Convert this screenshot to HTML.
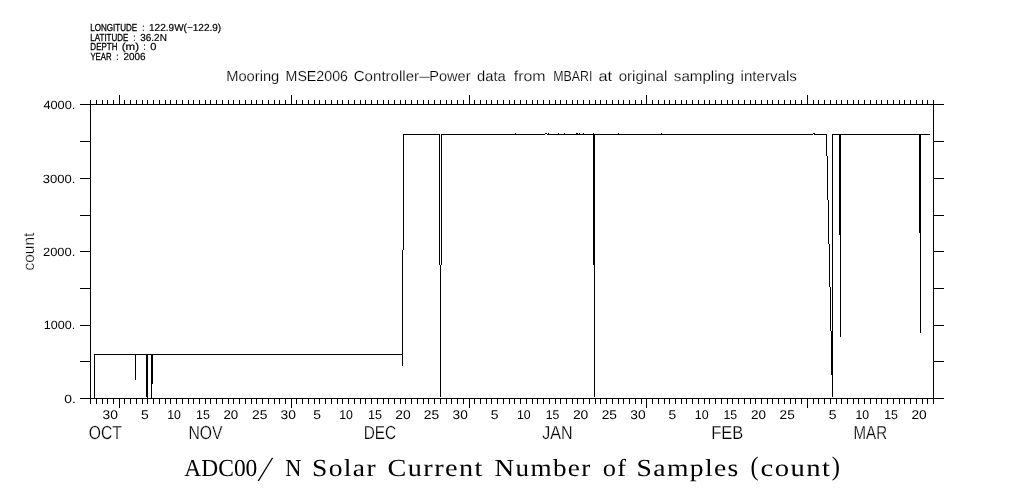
<!DOCTYPE html>
<html lang="en">
<head>
<meta charset="utf-8">
<title>Mooring MSE2006 Controller-Power data</title>
<style>
html, body { margin: 0; padding: 0; background: #fff; }
body { width: 1009px; height: 504px; overflow: hidden; }
svg { display: block; filter: grayscale(1); }
svg text { fill: #000; white-space: pre; text-rendering: geometricPrecision; }
</style>
</head>
<body>
<svg width="1009" height="504" viewBox="0 0 1009 504">
<rect x="0" y="0" width="1009" height="504" fill="#fff"/>
<g fill="#000" shape-rendering="crispEdges">
<rect x="80" y="104" width="864" height="1"/>
<rect x="80" y="398" width="864" height="1"/>
<rect x="90" y="104" width="1" height="295"/>
<rect x="933" y="104" width="1" height="295"/>
<rect x="80" y="104" width="11" height="1"/>
<rect x="933" y="104" width="11" height="1"/>
<rect x="80" y="141" width="11" height="1"/>
<rect x="933" y="141" width="11" height="1"/>
<rect x="80" y="178" width="11" height="1"/>
<rect x="933" y="178" width="11" height="1"/>
<rect x="80" y="215" width="11" height="1"/>
<rect x="933" y="215" width="11" height="1"/>
<rect x="80" y="251" width="11" height="1"/>
<rect x="933" y="251" width="11" height="1"/>
<rect x="80" y="288" width="11" height="1"/>
<rect x="933" y="288" width="11" height="1"/>
<rect x="80" y="325" width="11" height="1"/>
<rect x="933" y="325" width="11" height="1"/>
<rect x="80" y="361" width="11" height="1"/>
<rect x="933" y="361" width="11" height="1"/>
<rect x="80" y="398" width="11" height="1"/>
<rect x="933" y="398" width="11" height="1"/>
<rect x="90" y="100" width="1" height="5"/>
<rect x="90" y="398" width="1" height="6"/>
<rect x="96" y="100" width="1" height="5"/>
<rect x="96" y="398" width="1" height="6"/>
<rect x="102" y="100" width="1" height="5"/>
<rect x="102" y="398" width="1" height="6"/>
<rect x="107" y="100" width="1" height="5"/>
<rect x="107" y="398" width="1" height="6"/>
<rect x="113" y="100" width="1" height="5"/>
<rect x="113" y="398" width="1" height="6"/>
<rect x="119" y="95" width="1" height="10"/>
<rect x="119" y="398" width="1" height="10"/>
<rect x="124" y="100" width="1" height="5"/>
<rect x="124" y="398" width="1" height="6"/>
<rect x="130" y="100" width="1" height="5"/>
<rect x="130" y="398" width="1" height="6"/>
<rect x="136" y="100" width="1" height="5"/>
<rect x="136" y="398" width="1" height="6"/>
<rect x="142" y="100" width="1" height="5"/>
<rect x="142" y="398" width="1" height="6"/>
<rect x="147" y="100" width="1" height="5"/>
<rect x="147" y="398" width="1" height="6"/>
<rect x="153" y="100" width="1" height="5"/>
<rect x="153" y="398" width="1" height="6"/>
<rect x="159" y="100" width="1" height="5"/>
<rect x="159" y="398" width="1" height="6"/>
<rect x="165" y="100" width="1" height="5"/>
<rect x="165" y="398" width="1" height="6"/>
<rect x="170" y="100" width="1" height="5"/>
<rect x="170" y="398" width="1" height="6"/>
<rect x="176" y="100" width="1" height="5"/>
<rect x="176" y="398" width="1" height="6"/>
<rect x="182" y="100" width="1" height="5"/>
<rect x="182" y="398" width="1" height="6"/>
<rect x="188" y="100" width="1" height="5"/>
<rect x="188" y="398" width="1" height="6"/>
<rect x="193" y="100" width="1" height="5"/>
<rect x="193" y="398" width="1" height="6"/>
<rect x="199" y="100" width="1" height="5"/>
<rect x="199" y="398" width="1" height="6"/>
<rect x="205" y="100" width="1" height="5"/>
<rect x="205" y="398" width="1" height="6"/>
<rect x="210" y="100" width="1" height="5"/>
<rect x="210" y="398" width="1" height="6"/>
<rect x="216" y="100" width="1" height="5"/>
<rect x="216" y="398" width="1" height="6"/>
<rect x="222" y="100" width="1" height="5"/>
<rect x="222" y="398" width="1" height="6"/>
<rect x="228" y="100" width="1" height="5"/>
<rect x="228" y="398" width="1" height="6"/>
<rect x="233" y="100" width="1" height="5"/>
<rect x="233" y="398" width="1" height="6"/>
<rect x="239" y="100" width="1" height="5"/>
<rect x="239" y="398" width="1" height="6"/>
<rect x="245" y="100" width="1" height="5"/>
<rect x="245" y="398" width="1" height="6"/>
<rect x="251" y="100" width="1" height="5"/>
<rect x="251" y="398" width="1" height="6"/>
<rect x="256" y="100" width="1" height="5"/>
<rect x="256" y="398" width="1" height="6"/>
<rect x="262" y="100" width="1" height="5"/>
<rect x="262" y="398" width="1" height="6"/>
<rect x="268" y="100" width="1" height="5"/>
<rect x="268" y="398" width="1" height="6"/>
<rect x="274" y="100" width="1" height="5"/>
<rect x="274" y="398" width="1" height="6"/>
<rect x="279" y="100" width="1" height="5"/>
<rect x="279" y="398" width="1" height="6"/>
<rect x="285" y="100" width="1" height="5"/>
<rect x="285" y="398" width="1" height="6"/>
<rect x="291" y="95" width="1" height="10"/>
<rect x="291" y="398" width="1" height="10"/>
<rect x="296" y="100" width="1" height="5"/>
<rect x="296" y="398" width="1" height="6"/>
<rect x="302" y="100" width="1" height="5"/>
<rect x="302" y="398" width="1" height="6"/>
<rect x="308" y="100" width="1" height="5"/>
<rect x="308" y="398" width="1" height="6"/>
<rect x="314" y="100" width="1" height="5"/>
<rect x="314" y="398" width="1" height="6"/>
<rect x="319" y="100" width="1" height="5"/>
<rect x="319" y="398" width="1" height="6"/>
<rect x="325" y="100" width="1" height="5"/>
<rect x="325" y="398" width="1" height="6"/>
<rect x="331" y="100" width="1" height="5"/>
<rect x="331" y="398" width="1" height="6"/>
<rect x="337" y="100" width="1" height="5"/>
<rect x="337" y="398" width="1" height="6"/>
<rect x="342" y="100" width="1" height="5"/>
<rect x="342" y="398" width="1" height="6"/>
<rect x="348" y="100" width="1" height="5"/>
<rect x="348" y="398" width="1" height="6"/>
<rect x="354" y="100" width="1" height="5"/>
<rect x="354" y="398" width="1" height="6"/>
<rect x="360" y="100" width="1" height="5"/>
<rect x="360" y="398" width="1" height="6"/>
<rect x="365" y="100" width="1" height="5"/>
<rect x="365" y="398" width="1" height="6"/>
<rect x="371" y="100" width="1" height="5"/>
<rect x="371" y="398" width="1" height="6"/>
<rect x="377" y="100" width="1" height="5"/>
<rect x="377" y="398" width="1" height="6"/>
<rect x="383" y="100" width="1" height="5"/>
<rect x="383" y="398" width="1" height="6"/>
<rect x="388" y="100" width="1" height="5"/>
<rect x="388" y="398" width="1" height="6"/>
<rect x="394" y="100" width="1" height="5"/>
<rect x="394" y="398" width="1" height="6"/>
<rect x="400" y="100" width="1" height="5"/>
<rect x="400" y="398" width="1" height="6"/>
<rect x="405" y="100" width="1" height="5"/>
<rect x="405" y="398" width="1" height="6"/>
<rect x="411" y="100" width="1" height="5"/>
<rect x="411" y="398" width="1" height="6"/>
<rect x="417" y="100" width="1" height="5"/>
<rect x="417" y="398" width="1" height="6"/>
<rect x="423" y="100" width="1" height="5"/>
<rect x="423" y="398" width="1" height="6"/>
<rect x="428" y="100" width="1" height="5"/>
<rect x="428" y="398" width="1" height="6"/>
<rect x="434" y="100" width="1" height="5"/>
<rect x="434" y="398" width="1" height="6"/>
<rect x="440" y="100" width="1" height="5"/>
<rect x="440" y="398" width="1" height="6"/>
<rect x="446" y="100" width="1" height="5"/>
<rect x="446" y="398" width="1" height="6"/>
<rect x="451" y="100" width="1" height="5"/>
<rect x="451" y="398" width="1" height="6"/>
<rect x="457" y="100" width="1" height="5"/>
<rect x="457" y="398" width="1" height="6"/>
<rect x="463" y="100" width="1" height="5"/>
<rect x="463" y="398" width="1" height="6"/>
<rect x="469" y="95" width="1" height="10"/>
<rect x="469" y="398" width="1" height="10"/>
<rect x="474" y="100" width="1" height="5"/>
<rect x="474" y="398" width="1" height="6"/>
<rect x="480" y="100" width="1" height="5"/>
<rect x="480" y="398" width="1" height="6"/>
<rect x="486" y="100" width="1" height="5"/>
<rect x="486" y="398" width="1" height="6"/>
<rect x="491" y="100" width="1" height="5"/>
<rect x="491" y="398" width="1" height="6"/>
<rect x="497" y="100" width="1" height="5"/>
<rect x="497" y="398" width="1" height="6"/>
<rect x="503" y="100" width="1" height="5"/>
<rect x="503" y="398" width="1" height="6"/>
<rect x="509" y="100" width="1" height="5"/>
<rect x="509" y="398" width="1" height="6"/>
<rect x="514" y="100" width="1" height="5"/>
<rect x="514" y="398" width="1" height="6"/>
<rect x="520" y="100" width="1" height="5"/>
<rect x="520" y="398" width="1" height="6"/>
<rect x="526" y="100" width="1" height="5"/>
<rect x="526" y="398" width="1" height="6"/>
<rect x="532" y="100" width="1" height="5"/>
<rect x="532" y="398" width="1" height="6"/>
<rect x="537" y="100" width="1" height="5"/>
<rect x="537" y="398" width="1" height="6"/>
<rect x="543" y="100" width="1" height="5"/>
<rect x="543" y="398" width="1" height="6"/>
<rect x="549" y="100" width="1" height="5"/>
<rect x="549" y="398" width="1" height="6"/>
<rect x="555" y="100" width="1" height="5"/>
<rect x="555" y="398" width="1" height="6"/>
<rect x="560" y="100" width="1" height="5"/>
<rect x="560" y="398" width="1" height="6"/>
<rect x="566" y="100" width="1" height="5"/>
<rect x="566" y="398" width="1" height="6"/>
<rect x="572" y="100" width="1" height="5"/>
<rect x="572" y="398" width="1" height="6"/>
<rect x="577" y="100" width="1" height="5"/>
<rect x="577" y="398" width="1" height="6"/>
<rect x="583" y="100" width="1" height="5"/>
<rect x="583" y="398" width="1" height="6"/>
<rect x="589" y="100" width="1" height="5"/>
<rect x="589" y="398" width="1" height="6"/>
<rect x="595" y="100" width="1" height="5"/>
<rect x="595" y="398" width="1" height="6"/>
<rect x="600" y="100" width="1" height="5"/>
<rect x="600" y="398" width="1" height="6"/>
<rect x="606" y="100" width="1" height="5"/>
<rect x="606" y="398" width="1" height="6"/>
<rect x="612" y="100" width="1" height="5"/>
<rect x="612" y="398" width="1" height="6"/>
<rect x="618" y="100" width="1" height="5"/>
<rect x="618" y="398" width="1" height="6"/>
<rect x="623" y="100" width="1" height="5"/>
<rect x="623" y="398" width="1" height="6"/>
<rect x="629" y="100" width="1" height="5"/>
<rect x="629" y="398" width="1" height="6"/>
<rect x="635" y="100" width="1" height="5"/>
<rect x="635" y="398" width="1" height="6"/>
<rect x="641" y="100" width="1" height="5"/>
<rect x="641" y="398" width="1" height="6"/>
<rect x="646" y="95" width="1" height="10"/>
<rect x="646" y="398" width="1" height="10"/>
<rect x="652" y="100" width="1" height="5"/>
<rect x="652" y="398" width="1" height="6"/>
<rect x="658" y="100" width="1" height="5"/>
<rect x="658" y="398" width="1" height="6"/>
<rect x="664" y="100" width="1" height="5"/>
<rect x="664" y="398" width="1" height="6"/>
<rect x="669" y="100" width="1" height="5"/>
<rect x="669" y="398" width="1" height="6"/>
<rect x="675" y="100" width="1" height="5"/>
<rect x="675" y="398" width="1" height="6"/>
<rect x="681" y="100" width="1" height="5"/>
<rect x="681" y="398" width="1" height="6"/>
<rect x="686" y="100" width="1" height="5"/>
<rect x="686" y="398" width="1" height="6"/>
<rect x="692" y="100" width="1" height="5"/>
<rect x="692" y="398" width="1" height="6"/>
<rect x="698" y="100" width="1" height="5"/>
<rect x="698" y="398" width="1" height="6"/>
<rect x="704" y="100" width="1" height="5"/>
<rect x="704" y="398" width="1" height="6"/>
<rect x="709" y="100" width="1" height="5"/>
<rect x="709" y="398" width="1" height="6"/>
<rect x="715" y="100" width="1" height="5"/>
<rect x="715" y="398" width="1" height="6"/>
<rect x="721" y="100" width="1" height="5"/>
<rect x="721" y="398" width="1" height="6"/>
<rect x="727" y="100" width="1" height="5"/>
<rect x="727" y="398" width="1" height="6"/>
<rect x="732" y="100" width="1" height="5"/>
<rect x="732" y="398" width="1" height="6"/>
<rect x="738" y="100" width="1" height="5"/>
<rect x="738" y="398" width="1" height="6"/>
<rect x="744" y="100" width="1" height="5"/>
<rect x="744" y="398" width="1" height="6"/>
<rect x="750" y="100" width="1" height="5"/>
<rect x="750" y="398" width="1" height="6"/>
<rect x="755" y="100" width="1" height="5"/>
<rect x="755" y="398" width="1" height="6"/>
<rect x="761" y="100" width="1" height="5"/>
<rect x="761" y="398" width="1" height="6"/>
<rect x="767" y="100" width="1" height="5"/>
<rect x="767" y="398" width="1" height="6"/>
<rect x="772" y="100" width="1" height="5"/>
<rect x="772" y="398" width="1" height="6"/>
<rect x="778" y="100" width="1" height="5"/>
<rect x="778" y="398" width="1" height="6"/>
<rect x="784" y="100" width="1" height="5"/>
<rect x="784" y="398" width="1" height="6"/>
<rect x="790" y="100" width="1" height="5"/>
<rect x="790" y="398" width="1" height="6"/>
<rect x="795" y="100" width="1" height="5"/>
<rect x="795" y="398" width="1" height="6"/>
<rect x="801" y="100" width="1" height="5"/>
<rect x="801" y="398" width="1" height="6"/>
<rect x="807" y="95" width="1" height="10"/>
<rect x="807" y="398" width="1" height="10"/>
<rect x="813" y="100" width="1" height="5"/>
<rect x="813" y="398" width="1" height="6"/>
<rect x="818" y="100" width="1" height="5"/>
<rect x="818" y="398" width="1" height="6"/>
<rect x="824" y="100" width="1" height="5"/>
<rect x="824" y="398" width="1" height="6"/>
<rect x="830" y="100" width="1" height="5"/>
<rect x="830" y="398" width="1" height="6"/>
<rect x="836" y="100" width="1" height="5"/>
<rect x="836" y="398" width="1" height="6"/>
<rect x="841" y="100" width="1" height="5"/>
<rect x="841" y="398" width="1" height="6"/>
<rect x="847" y="100" width="1" height="5"/>
<rect x="847" y="398" width="1" height="6"/>
<rect x="853" y="100" width="1" height="5"/>
<rect x="853" y="398" width="1" height="6"/>
<rect x="858" y="100" width="1" height="5"/>
<rect x="858" y="398" width="1" height="6"/>
<rect x="864" y="100" width="1" height="5"/>
<rect x="864" y="398" width="1" height="6"/>
<rect x="870" y="100" width="1" height="5"/>
<rect x="870" y="398" width="1" height="6"/>
<rect x="876" y="100" width="1" height="5"/>
<rect x="876" y="398" width="1" height="6"/>
<rect x="881" y="100" width="1" height="5"/>
<rect x="881" y="398" width="1" height="6"/>
<rect x="887" y="100" width="1" height="5"/>
<rect x="887" y="398" width="1" height="6"/>
<rect x="893" y="100" width="1" height="5"/>
<rect x="893" y="398" width="1" height="6"/>
<rect x="899" y="100" width="1" height="5"/>
<rect x="899" y="398" width="1" height="6"/>
<rect x="904" y="100" width="1" height="5"/>
<rect x="904" y="398" width="1" height="6"/>
<rect x="910" y="100" width="1" height="5"/>
<rect x="910" y="398" width="1" height="6"/>
<rect x="916" y="100" width="1" height="5"/>
<rect x="916" y="398" width="1" height="6"/>
<rect x="922" y="100" width="1" height="5"/>
<rect x="922" y="398" width="1" height="6"/>
<rect x="927" y="100" width="1" height="5"/>
<rect x="927" y="398" width="1" height="6"/>
<rect x="933" y="100" width="1" height="5"/>
<rect x="933" y="398" width="1" height="6"/>
<rect x="94" y="354" width="309" height="1"/>
<rect x="94" y="354" width="1" height="44"/>
<rect x="135" y="354" width="1" height="26"/>
<rect x="146" y="354" width="1" height="43"/>
<rect x="147" y="354" width="1" height="44"/>
<rect x="151" y="354" width="1" height="44"/>
<rect x="152" y="354" width="1" height="30"/>
<rect x="402" y="250" width="1" height="116"/>
<rect x="403" y="134" width="1" height="116"/>
<rect x="403" y="134" width="37" height="1"/>
<rect x="439" y="134" width="1" height="131"/>
<rect x="441" y="134" width="1" height="131"/>
<rect x="440" y="265" width="1" height="132"/>
<rect x="441" y="134" width="386" height="1"/>
<rect x="593" y="134" width="1" height="131"/>
<rect x="594" y="134" width="1" height="263"/>
<rect x="826" y="134" width="1" height="22"/>
<rect x="827" y="156" width="1" height="44"/>
<rect x="828" y="200" width="1" height="44"/>
<rect x="829" y="244" width="1" height="43"/>
<rect x="830" y="287" width="1" height="44"/>
<rect x="832" y="134" width="1" height="263"/>
<rect x="831" y="331" width="1" height="44"/>
<rect x="832" y="134" width="98" height="1"/>
<rect x="839" y="134" width="1" height="101"/>
<rect x="840" y="134" width="1" height="203"/>
<rect x="919" y="134" width="1" height="99"/>
<rect x="920" y="134" width="1" height="199"/>
<rect x="515" y="133" width="1" height="1"/>
<rect x="545" y="133" width="1" height="1"/>
<rect x="546" y="133" width="1" height="1"/>
<rect x="548" y="133" width="1" height="1"/>
<rect x="558" y="133" width="1" height="1"/>
<rect x="564" y="133" width="1" height="1"/>
<rect x="576" y="133" width="1" height="1"/>
<rect x="577" y="133" width="1" height="1"/>
<rect x="579" y="133" width="1" height="1"/>
<rect x="583" y="133" width="1" height="1"/>
<rect x="593" y="133" width="1" height="1"/>
<rect x="618" y="133" width="1" height="1"/>
<rect x="661" y="133" width="1" height="1"/>
<rect x="813" y="133" width="1" height="1"/>
<rect x="814" y="133" width="1" height="1"/>
<rect x="545" y="134" width="2" height="1" fill="#fff"/>
<rect x="813" y="134" width="1" height="1" fill="#fff"/>
</g>
<g>
<text x="90.32" y="31.00" font-size="10.17" font-family='"Liberation Sans", sans-serif' stroke="#000" stroke-width="0.3" letter-spacing="0" textLength="46.92" lengthAdjust="spacingAndGlyphs">LONGITUDE</text>
<text x="142.20" y="31.00" font-size="10.17" font-family='"Liberation Sans", sans-serif' stroke="#000" stroke-width="0.2" letter-spacing="0" textLength="2.20" lengthAdjust="spacingAndGlyphs">:</text>
<text x="149.06" y="31.00" font-size="10.17" font-family='"Liberation Sans", sans-serif' stroke="#000" stroke-width="0.2" letter-spacing="0" textLength="72.17" lengthAdjust="spacingAndGlyphs">122.9W(−122.9)</text>
<text x="90.33" y="41.00" font-size="10.17" font-family='"Liberation Sans", sans-serif' stroke="#000" stroke-width="0.3" letter-spacing="0" textLength="38.06" lengthAdjust="spacingAndGlyphs">LATITUDE</text>
<text x="133.27" y="41.00" font-size="10.17" font-family='"Liberation Sans", sans-serif' stroke="#000" stroke-width="0.2" letter-spacing="0" textLength="2.20" lengthAdjust="spacingAndGlyphs">:</text>
<text x="140.34" y="41.00" font-size="10.17" font-family='"Liberation Sans", sans-serif' stroke="#000" stroke-width="0.2" letter-spacing="0" textLength="26.49" lengthAdjust="spacingAndGlyphs">36.2N</text>
<text x="90.36" y="50.20" font-size="10.17" font-family='"Liberation Sans", sans-serif' stroke="#000" stroke-width="0.3" letter-spacing="0" textLength="27.10" lengthAdjust="spacingAndGlyphs">DEPTH</text>
<text x="121.78" y="50.20" font-size="10.17" font-family='"Liberation Sans", sans-serif' stroke="#000" stroke-width="0.2" letter-spacing="0" textLength="17.27" lengthAdjust="spacingAndGlyphs">(m)</text>
<text x="143.46" y="50.20" font-size="10.17" font-family='"Liberation Sans", sans-serif' stroke="#000" stroke-width="0.2" letter-spacing="0" textLength="2.20" lengthAdjust="spacingAndGlyphs">:</text>
<text x="150.19" y="50.20" font-size="10.17" font-family='"Liberation Sans", sans-serif' stroke="#000" stroke-width="0.2" letter-spacing="0" textLength="6.17" lengthAdjust="spacingAndGlyphs">0</text>
<text x="90.42" y="60.00" font-size="10.17" font-family='"Liberation Sans", sans-serif' stroke="#000" stroke-width="0.3" letter-spacing="0" textLength="21.16" lengthAdjust="spacingAndGlyphs">YEAR</text>
<text x="116.29" y="60.00" font-size="10.17" font-family='"Liberation Sans", sans-serif' stroke="#000" stroke-width="0.2" letter-spacing="0" textLength="2.20" lengthAdjust="spacingAndGlyphs">:</text>
<text x="123.59" y="60.00" font-size="10.17" font-family='"Liberation Sans", sans-serif' stroke="#000" stroke-width="0.2" letter-spacing="0" textLength="22.02" lengthAdjust="spacingAndGlyphs">2006</text>
<text x="226.18" y="81.00" font-size="14.53" font-family='"Liberation Sans", sans-serif' stroke="#fff" stroke-width="0.18" letter-spacing="0" textLength="53.09" lengthAdjust="spacingAndGlyphs">Mooring</text>
<text x="285.56" y="81.00" font-size="14.53" font-family='"Liberation Sans", sans-serif' stroke="#fff" stroke-width="0.18" letter-spacing="0" textLength="62.44" lengthAdjust="spacingAndGlyphs">MSE2006</text>
<text x="353.71" y="81.00" font-size="14.53" font-family='"Liberation Sans", sans-serif' stroke="#fff" stroke-width="0.18" letter-spacing="0" textLength="65.44" lengthAdjust="spacingAndGlyphs">Controller</text>
<text x="419.19" y="81.00" font-size="14.53" font-family='"Liberation Sans", sans-serif' stroke="#fff" stroke-width="0.18" letter-spacing="0" textLength="10.47" lengthAdjust="spacingAndGlyphs">—</text>
<text x="429.21" y="81.00" font-size="14.53" font-family='"Liberation Sans", sans-serif' stroke="#fff" stroke-width="0.18" letter-spacing="0" textLength="41.29" lengthAdjust="spacingAndGlyphs">Power</text>
<text x="477.05" y="81.00" font-size="14.53" font-family='"Liberation Sans", sans-serif' stroke="#fff" stroke-width="0.18" letter-spacing="0" textLength="28.72" lengthAdjust="spacingAndGlyphs">data</text>
<text x="513.75" y="81.00" font-size="14.53" font-family='"Liberation Sans", sans-serif' stroke="#fff" stroke-width="0.18" letter-spacing="0" textLength="31.79" lengthAdjust="spacingAndGlyphs">from</text>
<text x="553.28" y="81.00" font-size="14.53" font-family='"Liberation Sans", sans-serif' stroke="#fff" stroke-width="0.18" letter-spacing="0" textLength="39.06" lengthAdjust="spacingAndGlyphs">MBARI</text>
<text x="598.53" y="81.00" font-size="14.53" font-family='"Liberation Sans", sans-serif' stroke="#fff" stroke-width="0.18" letter-spacing="0" textLength="13.66" lengthAdjust="spacingAndGlyphs">at</text>
<text x="618.65" y="81.00" font-size="14.53" font-family='"Liberation Sans", sans-serif' stroke="#fff" stroke-width="0.18" letter-spacing="0" textLength="48.72" lengthAdjust="spacingAndGlyphs">original</text>
<text x="673.84" y="81.00" font-size="14.53" font-family='"Liberation Sans", sans-serif' stroke="#fff" stroke-width="0.18" letter-spacing="0" textLength="60.55" lengthAdjust="spacingAndGlyphs">sampling</text>
<text x="740.56" y="81.00" font-size="14.53" font-family='"Liberation Sans", sans-serif' stroke="#fff" stroke-width="0.18" letter-spacing="0" textLength="56.27" lengthAdjust="spacingAndGlyphs">intervals</text>
<text x="43.40" y="108.90" font-size="12.0" font-family='"Liberation Sans", sans-serif'  letter-spacing="0" textLength="31.93" lengthAdjust="spacingAndGlyphs">4000.</text>
<text x="42.85" y="182.90" font-size="12.0" font-family='"Liberation Sans", sans-serif'  letter-spacing="0" textLength="32.63" lengthAdjust="spacingAndGlyphs">3000.</text>
<text x="42.97" y="255.90" font-size="12.0" font-family='"Liberation Sans", sans-serif'  letter-spacing="0" textLength="32.33" lengthAdjust="spacingAndGlyphs">2000.</text>
<text x="43.89" y="328.90" font-size="12.0" font-family='"Liberation Sans", sans-serif'  letter-spacing="0" textLength="31.36" lengthAdjust="spacingAndGlyphs">1000.</text>
<text x="64.25" y="402.90" font-size="12.0" font-family='"Liberation Sans", sans-serif'  letter-spacing="0" textLength="11.59" lengthAdjust="spacingAndGlyphs">0.</text>
<text x="102.64" y="418.90" font-size="12.7" font-family='"Liberation Sans", sans-serif'  letter-spacing="0" textLength="15.35" lengthAdjust="spacingAndGlyphs">30</text>
<text x="140.97" y="418.90" font-size="12.7" font-family='"Liberation Sans", sans-serif'  letter-spacing="0" textLength="7.74" lengthAdjust="spacingAndGlyphs">5</text>
<text x="167.26" y="418.90" font-size="12.7" font-family='"Liberation Sans", sans-serif'  letter-spacing="0" textLength="13.66" lengthAdjust="spacingAndGlyphs">10</text>
<text x="196.09" y="418.90" font-size="12.7" font-family='"Liberation Sans", sans-serif'  letter-spacing="0" textLength="13.78" lengthAdjust="spacingAndGlyphs">15</text>
<text x="223.43" y="418.90" font-size="12.7" font-family='"Liberation Sans", sans-serif'  letter-spacing="0" textLength="14.84" lengthAdjust="spacingAndGlyphs">20</text>
<text x="252.00" y="418.90" font-size="12.7" font-family='"Liberation Sans", sans-serif'  letter-spacing="0" textLength="15.30" lengthAdjust="spacingAndGlyphs">25</text>
<text x="280.52" y="418.90" font-size="12.7" font-family='"Liberation Sans", sans-serif'  letter-spacing="0" textLength="15.35" lengthAdjust="spacingAndGlyphs">30</text>
<text x="313.18" y="418.90" font-size="12.7" font-family='"Liberation Sans", sans-serif'  letter-spacing="0" textLength="7.74" lengthAdjust="spacingAndGlyphs">5</text>
<text x="339.27" y="418.90" font-size="12.7" font-family='"Liberation Sans", sans-serif'  letter-spacing="0" textLength="13.68" lengthAdjust="spacingAndGlyphs">10</text>
<text x="367.91" y="418.90" font-size="12.7" font-family='"Liberation Sans", sans-serif'  letter-spacing="0" textLength="14.06" lengthAdjust="spacingAndGlyphs">15</text>
<text x="395.24" y="418.90" font-size="12.7" font-family='"Liberation Sans", sans-serif'  letter-spacing="0" textLength="15.42" lengthAdjust="spacingAndGlyphs">20</text>
<text x="423.81" y="418.90" font-size="12.7" font-family='"Liberation Sans", sans-serif'  letter-spacing="0" textLength="15.38" lengthAdjust="spacingAndGlyphs">25</text>
<text x="452.55" y="418.90" font-size="12.7" font-family='"Liberation Sans", sans-serif'  letter-spacing="0" textLength="15.21" lengthAdjust="spacingAndGlyphs">30</text>
<text x="490.86" y="418.90" font-size="12.7" font-family='"Liberation Sans", sans-serif'  letter-spacing="0" textLength="7.75" lengthAdjust="spacingAndGlyphs">5</text>
<text x="517.06" y="418.90" font-size="12.7" font-family='"Liberation Sans", sans-serif'  letter-spacing="0" textLength="13.66" lengthAdjust="spacingAndGlyphs">10</text>
<text x="545.82" y="418.90" font-size="12.7" font-family='"Liberation Sans", sans-serif'  letter-spacing="0" textLength="13.58" lengthAdjust="spacingAndGlyphs">15</text>
<text x="572.91" y="418.90" font-size="12.7" font-family='"Liberation Sans", sans-serif'  letter-spacing="0" textLength="15.42" lengthAdjust="spacingAndGlyphs">20</text>
<text x="601.74" y="418.90" font-size="12.7" font-family='"Liberation Sans", sans-serif'  letter-spacing="0" textLength="15.25" lengthAdjust="spacingAndGlyphs">25</text>
<text x="630.23" y="418.90" font-size="12.7" font-family='"Liberation Sans", sans-serif'  letter-spacing="0" textLength="15.35" lengthAdjust="spacingAndGlyphs">30</text>
<text x="668.44" y="418.90" font-size="12.7" font-family='"Liberation Sans", sans-serif'  letter-spacing="0" textLength="7.68" lengthAdjust="spacingAndGlyphs">5</text>
<text x="694.85" y="418.90" font-size="12.7" font-family='"Liberation Sans", sans-serif'  letter-spacing="0" textLength="13.81" lengthAdjust="spacingAndGlyphs">10</text>
<text x="723.53" y="418.90" font-size="12.7" font-family='"Liberation Sans", sans-serif'  letter-spacing="0" textLength="13.66" lengthAdjust="spacingAndGlyphs">15</text>
<text x="751.02" y="418.90" font-size="12.7" font-family='"Liberation Sans", sans-serif'  letter-spacing="0" textLength="14.95" lengthAdjust="spacingAndGlyphs">20</text>
<text x="779.63" y="418.90" font-size="12.7" font-family='"Liberation Sans", sans-serif'  letter-spacing="0" textLength="15.19" lengthAdjust="spacingAndGlyphs">25</text>
<text x="828.87" y="418.90" font-size="12.7" font-family='"Liberation Sans", sans-serif'  letter-spacing="0" textLength="7.76" lengthAdjust="spacingAndGlyphs">5</text>
<text x="855.43" y="418.90" font-size="12.7" font-family='"Liberation Sans", sans-serif'  letter-spacing="0" textLength="13.60" lengthAdjust="spacingAndGlyphs">10</text>
<text x="884.14" y="418.90" font-size="12.7" font-family='"Liberation Sans", sans-serif'  letter-spacing="0" textLength="13.72" lengthAdjust="spacingAndGlyphs">15</text>
<text x="911.45" y="418.90" font-size="12.7" font-family='"Liberation Sans", sans-serif'  letter-spacing="0" textLength="15.28" lengthAdjust="spacingAndGlyphs">20</text>
<text x="88.83" y="438.90" font-size="18.9" font-family='"Liberation Sans", sans-serif' stroke="#fff" stroke-width="0.25" letter-spacing="0" textLength="33.06" lengthAdjust="spacingAndGlyphs">OCT</text>
<text x="188.53" y="438.90" font-size="18.9" font-family='"Liberation Sans", sans-serif' stroke="#fff" stroke-width="0.25" letter-spacing="0" textLength="34.05" lengthAdjust="spacingAndGlyphs">NOV</text>
<text x="363.69" y="438.90" font-size="18.9" font-family='"Liberation Sans", sans-serif' stroke="#fff" stroke-width="0.25" letter-spacing="0" textLength="32.48" lengthAdjust="spacingAndGlyphs">DEC</text>
<text x="542.23" y="438.90" font-size="18.9" font-family='"Liberation Sans", sans-serif' stroke="#fff" stroke-width="0.25" letter-spacing="0" textLength="30.35" lengthAdjust="spacingAndGlyphs">JAN</text>
<text x="711.30" y="438.90" font-size="18.9" font-family='"Liberation Sans", sans-serif' stroke="#fff" stroke-width="0.25" letter-spacing="0" textLength="32.05" lengthAdjust="spacingAndGlyphs">FEB</text>
<text x="853.56" y="438.90" font-size="18.9" font-family='"Liberation Sans", sans-serif' stroke="#fff" stroke-width="0.25" letter-spacing="0" textLength="33.49" lengthAdjust="spacingAndGlyphs">MAR</text>
<text x="184.36" y="476.00" font-size="24.43" font-family='"Liberation Serif", serif'  letter-spacing="0" textLength="73.01" lengthAdjust="spacingAndGlyphs">ADC00</text>
<text x="256.51" y="480.60" font-size="35.9" font-family='"Liberation Serif", serif' stroke="#fff" stroke-width="0.8" letter-spacing="0" textLength="17.91" lengthAdjust="spacingAndGlyphs">/</text>
<text x="285.15" y="476.00" font-size="24.43" font-family='"Liberation Serif", serif'  letter-spacing="0" textLength="16.09" lengthAdjust="spacingAndGlyphs">N</text>
<text x="312.00" y="476.00" font-size="24.43" font-family='"Liberation Serif", serif'  letter-spacing="1.2" textLength="65.01" lengthAdjust="spacingAndGlyphs">Solar</text>
<text x="387.58" y="476.00" font-size="24.43" font-family='"Liberation Serif", serif'  letter-spacing="1.2" textLength="96.11" lengthAdjust="spacingAndGlyphs">Current</text>
<text x="494.63" y="476.00" font-size="24.43" font-family='"Liberation Serif", serif'  letter-spacing="1.2" textLength="97.03" lengthAdjust="spacingAndGlyphs">Number</text>
<text x="602.80" y="476.00" font-size="24.43" font-family='"Liberation Serif", serif'  letter-spacing="1.2" textLength="24.62" lengthAdjust="spacingAndGlyphs">of</text>
<text x="636.57" y="476.00" font-size="24.43" font-family='"Liberation Serif", serif'  letter-spacing="1.2" textLength="103.13" lengthAdjust="spacingAndGlyphs">Samples</text>
<text x="750.62" y="475.36" font-size="26.5" font-family='"Liberation Serif", serif'  letter-spacing="0" textLength="7.95" lengthAdjust="spacingAndGlyphs">(</text>
<text x="760.57" y="476.00" font-size="24.43" font-family='"Liberation Serif", serif'  letter-spacing="1.2" textLength="70.75" lengthAdjust="spacingAndGlyphs">count</text>
<text x="831.70" y="475.36" font-size="26.5" font-family='"Liberation Serif", serif'  letter-spacing="0" textLength="8.19" lengthAdjust="spacingAndGlyphs">)</text>
<text transform="translate(33.6 251.6) rotate(-90)" x="0" y="0" font-size="15.5" font-family='"Liberation Sans", sans-serif' text-anchor="middle" stroke="#fff" stroke-width="0.3" textLength="38.0" lengthAdjust="spacing">count</text>
</g>
</svg>
</body>
</html>
